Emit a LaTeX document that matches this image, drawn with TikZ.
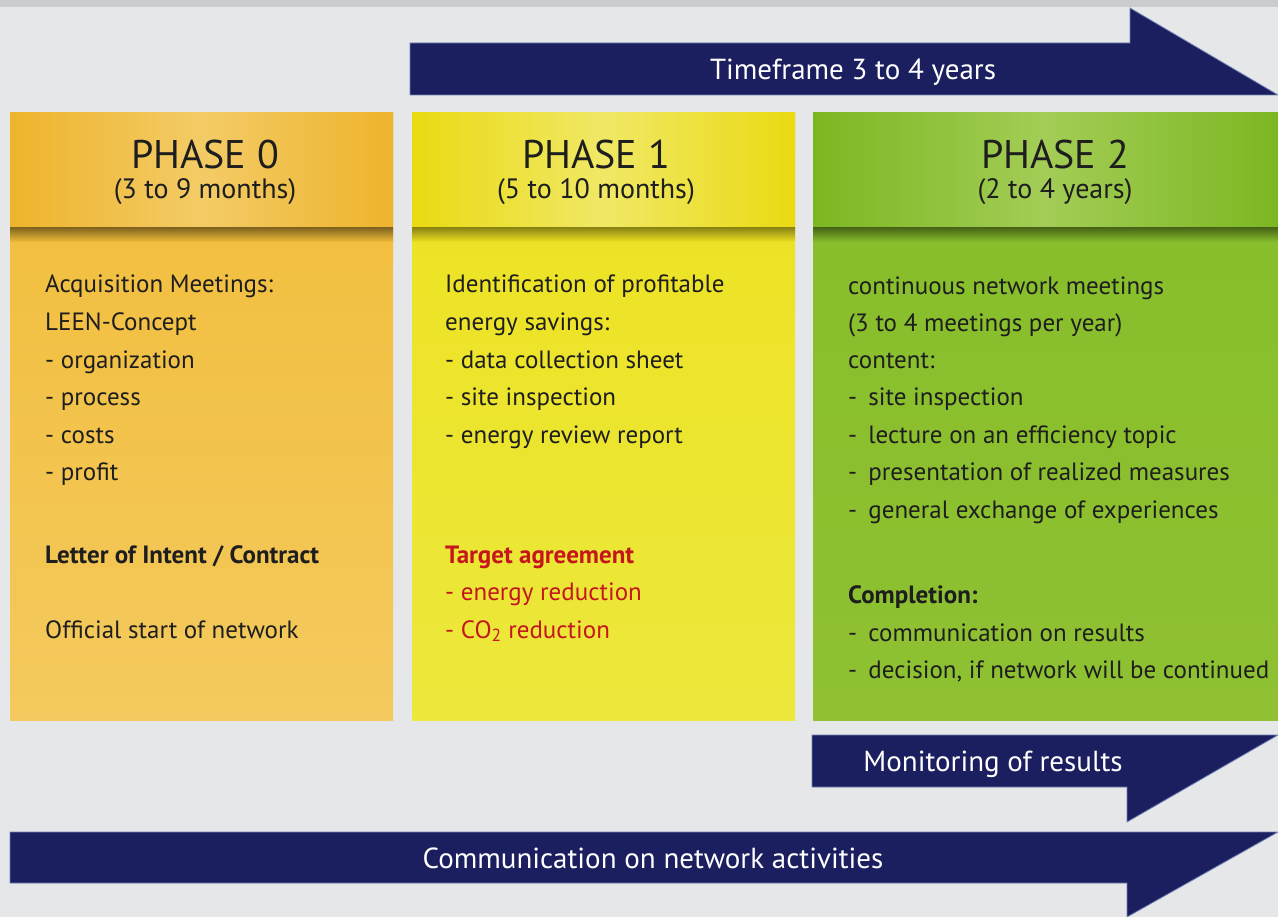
\documentclass[tikz,border=0pt]{standalone}
\usepackage{fontspec}
\setmainfont{PT Sans}
\definecolor{bg}{HTML}{E6E7E9}
\definecolor{topstrip}{HTML}{CBCCCE}
\definecolor{navy}{HTML}{1C1F5F}
\definecolor{navyedge}{HTML}{7080B4}
\definecolor{txt}{HTML}{1E1E1E}
\definecolor{redtxt}{HTML}{C4161C}
\definecolor{oA}{HTML}{EEB42C}
\definecolor{oB}{HTML}{F3CB66}
\definecolor{oT}{HTML}{F1BC38}
\definecolor{oD}{HTML}{F4CA5E}
\definecolor{yA}{HTML}{EADA12}
\definecolor{yB}{HTML}{F0E866}
\definecolor{yT}{HTML}{EDE220}
\definecolor{yD}{HTML}{ECE83C}
\definecolor{gA}{HTML}{7CB722}
\definecolor{gB}{HTML}{A3CD56}
\definecolor{gT}{HTML}{86BD2A}
\definecolor{gD}{HTML}{8FC132}
\tikzset{
  body/.style={anchor=base west, inner sep=0pt, text=txt, font=\fontsize{25}{29}\selectfont},
  bodybold/.style={body, font=\fontsize{25}{29}\selectfont\bfseries},
  title/.style={anchor=base, inner sep=0pt, text=txt, font=\fontsize{40}{44}\selectfont},
  subtitle/.style={anchor=base, inner sep=0pt, text=txt, font=\fontsize{28}{32}\selectfont},
  bandtext/.style={anchor=base, inner sep=0pt, text=white, font=\fontsize{29}{33}\selectfont},
  band/.style={fill=navy, draw=navyedge, line width=0.8pt, line join=miter},
}
\begin{document}
\begin{tikzpicture}[x=1pt,y=-1pt]
\useasboundingbox (0,0) rectangle (1278,917);
\fill[bg] (0,0) rectangle (1278,917);
\fill[topstrip] (0,0) rectangle (1278,7);

% ---- phase boxes ----
% Phase 0
\shade[top color=oT, bottom color=oD] (10,113) rectangle (393,720);
\shade[left color=oA, right color=oA, middle color=oB] (10,113) rectangle (393,228);
\shade[top color=black!45!oT, bottom color=oT] (10,228) rectangle (393,242);
% Phase 1
\shade[top color=yT, bottom color=yD] (412,113) rectangle (795,720);
\shade[left color=yA, right color=yA, middle color=yB] (412,113) rectangle (795,228);
\shade[top color=black!40!yT, bottom color=yT] (412,228) rectangle (795,242);
% Phase 2
\shade[top color=gT, bottom color=gD] (813,113) rectangle (1278,720);
\shade[left color=gA, right color=gA, middle color=gB] (813,113) rectangle (1278,228);
\shade[top color=black!45!gT, bottom color=gT] (813,228) rectangle (1278,242);

% titles
\node[title] (t0) at (205,169) {PHASE 0};
\node[subtitle] (s0) at (205,199) {(3 to 9 months)};
\node[title] (t1) at (596,169) {PHASE 1};
\node[subtitle] (s1) at (596,199) {(5 to 10 months)};
\node[title] (t2) at (1055,169) {PHASE 2};
\node[subtitle] (s2) at (1055,199) {(2 to 4 years)};

% Phase 0 body
\node[body] (a1) at (45,293) {Acquisition Meetings:};
\node[body] (a2) at (45,331) {LEEN-Concept};
\node[body] (a3) at (45,369) {- organization};
\node[body] (a4) at (45,406) {- process};
\node[body] (a5) at (45,443) {- costs};
\node[body] (a6) at (45,480) {- profit};
\node[bodybold] (a7) at (45,563) {Letter of Intent / Contract};
\node[body] (a8) at (45,638) {Official start of network};

% Phase 1 body
\node[body] (b1) at (445,293) {Identification of profitable};
\node[body] (b2) at (445,331) {energy savings:};
\node[body] (b3) at (445,369) {- data collection sheet};
\node[body] (b4) at (445,406) {- site inspection};
\node[body] (b5) at (445,443) {- energy review report};
\node[bodybold, text=redtxt] (b6) at (445,563) {Target agreement};
\node[body, text=redtxt] (b7) at (445,600) {- energy reduction};
\node[body, text=redtxt] (b8) at (445,638) {- CO\textsubscript{2} reduction};

% Phase 2 body
\node[body] (c1) at (848,295) {continuous network meetings};
\node[body] (c2) at (848,332) {(3 to 4 meetings per year)};
\node[body] (c3) at (848,369) {content:};
\node[body] (c4) at (848,406) {-\hspace{0.45em}site inspection};
\node[body] (c5) at (848,443) {-\hspace{0.45em}lecture on an efficiency topic};
\node[body] (c6) at (848,480) {-\hspace{0.45em}presentation of realized measures};
\node[body] (c7) at (848,518) {-\hspace{0.45em}general exchange of experiences};
\node[bodybold] (c8) at (848,603) {Completion:};
\node[body] (c9) at (848,641) {-\hspace{0.45em}communication on results};
\node[body] (c10) at (848,678) {-\hspace{0.45em}decision, if network will be continued};

% ---- arrows ----
\path[band] (410,43) -- (1130,43) -- (1130,8) -- (1278,95) -- (410,95) -- cycle;
\node[bandtext] (tf) at (853,80) {Timeframe 3 to 4 years};

\path[band] (812,735) -- (1278,735) -- (1127,822) -- (1127,787) -- (812,787) -- cycle;
\node[bandtext] (mon) at (993,771) {Monitoring of results};

\path[band] (10,832) -- (1278,832) -- (1127,917) -- (1127,883) -- (10,883) -- cycle;
\node[bandtext] (com) at (653,868) {Communication on network activities};
\end{tikzpicture}
\end{document}
